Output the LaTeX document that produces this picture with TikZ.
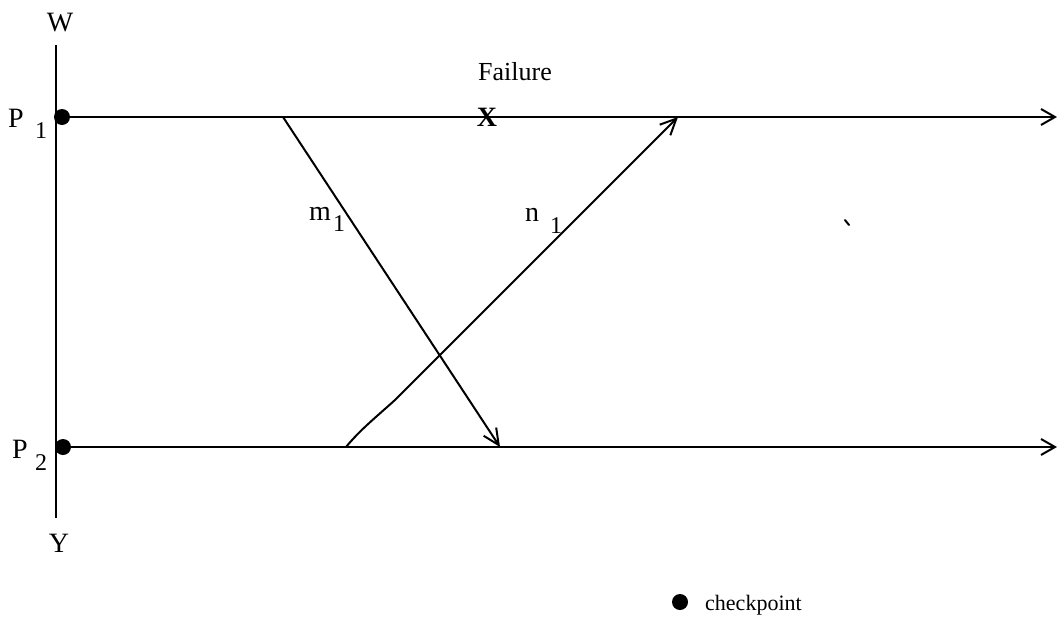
\documentclass[tikz,border=0pt]{standalone}
\usepackage{fontspec}
\setmainfont{Liberation Serif}
\usetikzlibrary{arrows.meta}
\tikzset{
  lbl/.style={inner sep=0pt, font=\fontsize{28}{30}\selectfont},
  sub/.style={inner sep=0pt, font=\fontsize{24}{26}\selectfont},
  ckpt/.style={circle, fill=black, inner sep=0pt, minimum size=16pt},
  proc/.style={line width=2pt, -{Straight Barb[length=14pt,width=16pt,line width=2pt]}},
  msg/.style={line width=2pt, -{Straight Barb[length=16pt,width=15pt,line width=2pt]}},
  axis/.style={line width=2pt}
}
\begin{document}
\begin{tikzpicture}[x=1pt,y=-1pt]
\useasboundingbox (0,0) rectangle (1057,624);
% vertical time axis
\node[lbl] (W) at (60,23) {W};
\node[lbl] (Y) at (59,543) {Y};
\coordinate (vtop) at (56,45);
\coordinate (vbot) at (56,518);
\draw[axis] (vtop) -- (vbot);
% checkpoints
\node[ckpt] (c1) at (62,117) {};
\node[ckpt] (c2) at (63,447) {};
% process lines
\coordinate (e1) at (1057,117);
\coordinate (e2) at (1057,447);
\draw[proc] (c1.center) -- (e1);
\draw[proc] (c2.center) -- (e2);
% labels
\node[lbl] (P1) at (16,118) {P};
\node[sub] (P1s) at (41,131) {1};
\node[lbl] (P2) at (20,449) {P};
\node[sub] (P2s) at (41,463) {2};
\node[lbl, font=\fontsize{26}{28}\selectfont] (fail) at (515,72) {Failure};
\node[lbl, font=\fontsize{28}{30}\selectfont\bfseries] (X) at (487,117) {X};
% messages
\coordinate (m1s) at (283,117);
\coordinate (m1e) at (500,447);
\coordinate (n1s) at (346,447);
\coordinate (n1b) at (395,400);
\coordinate (n1e) at (678,117);
\draw[msg] (m1s) -- (m1e);
\draw[msg] (n1s) .. controls (360,430) and (375,418) .. (n1b) -- (n1e);
\node[lbl] (m1) at (320,214) {m};
\node[sub] (m1sub) at (339,224) {1};
\node[lbl] (n1) at (532,215) {n};
\node[sub] (n1sub) at (556,226) {1};
% speck
\coordinate (sp1) at (845,220);
\coordinate (sp2) at (849,225);
\draw[line width=2pt, line cap=round] (sp1) -- (sp2);
% legend
\node[ckpt] (leg) at (680,602) {};
\node[inner sep=0pt, anchor=west, font=\fontsize{22}{24}\selectfont] (legt) at (705,605) {checkpoint};
\end{tikzpicture}
\end{document}
